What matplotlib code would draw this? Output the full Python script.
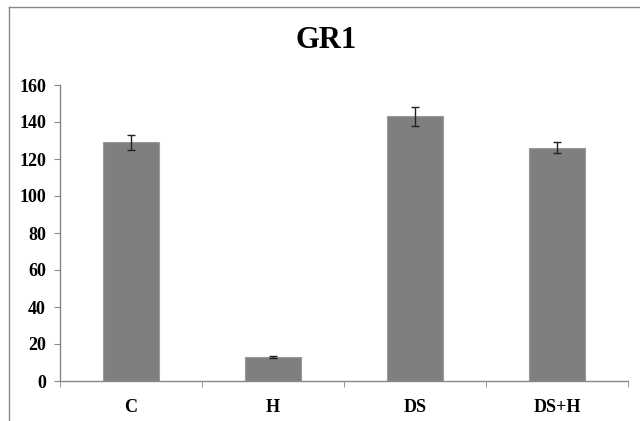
import matplotlib
matplotlib.use('Agg')
import matplotlib.pyplot as plt

# data
groups = ['C', 'H', 'DS', 'DS+H']
means = [129, 13, 143, 126]
errors = [4, 0.5, 5, 3]

plt.rcParams['font.family'] = ['Liberation Serif', 'DejaVu Serif']
plt.rcParams['font.weight'] = 'bold'

fig = plt.figure(figsize=(6.4, 4.21), dpi=100)
ax = fig.add_axes([60 / 640, 40 / 421, 568 / 640, 296 / 421])

x = list(range(len(groups)))
ax.bar(x, means, width=0.4, color='#7f7f7f', edgecolor='#9a9a9a', linewidth=0.8,
       yerr=errors, capsize=3, error_kw=dict(ecolor='#222222', elinewidth=1, capthick=1))

ax.set_xlim(-0.5, len(groups) - 0.5)
ax.set_ylim(0, 160)
ax.set_yticks(range(0, 161, 20))
ax.set_xticks(x)
ax.set_xticklabels(groups, fontsize=13, fontweight='bold')
ax.tick_params(axis='y', labelsize=13, length=4, color='#888888', pad=6)
ax.tick_params(axis='x', length=0, pad=13)
# category boundary ticks like excel
ax.set_xticks([i - 0.5 for i in range(len(groups) + 1)], minor=True)
ax.tick_params(axis='x', which='minor', length=4, color='#888888', direction='out')

for s in ['top', 'right']:
    ax.spines[s].set_visible(False)
for s in ['left', 'bottom']:
    ax.spines[s].set_color('#888888')
    ax.spines[s].set_linewidth(1)

fig.text(326 / 640, 1 - 41 / 421, 'GR1', ha='center', va='center',
         fontsize=22, fontweight='bold')

# outer frame (left and top edges visible)
fig.add_artist(plt.Line2D([8.5 / 640, 8.5 / 640], [0, 1 - 7 / 421],
                          transform=fig.transFigure, color='#888888', lw=1))
fig.add_artist(plt.Line2D([8.5 / 640, 1], [1 - 7 / 421, 1 - 7 / 421],
                          transform=fig.transFigure, color='#888888', lw=1))

fig.savefig('out.png', dpi=100)
